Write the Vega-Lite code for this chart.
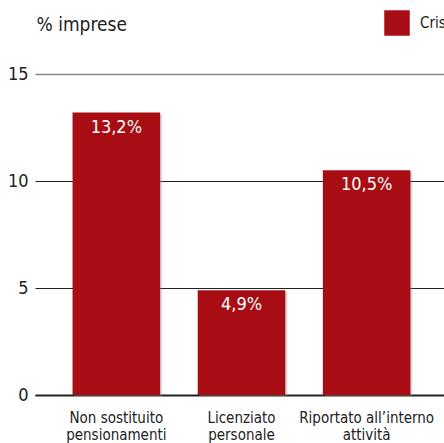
{
  "$schema": "https://vega.github.io/schema/vega-lite/v6.json",
  "autosize": "none",
  "width": 413,
  "height": 321,
  "padding": {"left": 35, "top": 74, "right": 0, "bottom": 48},
  "background": "white",
  "config": {
    "font": "DejaVu Sans Condensed, sans-serif",
    "view": {"stroke": null}
  },
  "data": {
    "values": [
      {"categoria": "Non sostituito pensionamenti", "valore": 13.2, "serie": "Crisi"},
      {"categoria": "Licenziato personale", "valore": 4.9, "serie": "Crisi"},
      {"categoria": "Riportato all’interno attività", "valore": 10.5, "serie": "Crisi"}
    ]
  },
  "encoding": {
    "x": {
      "field": "categoria",
      "type": "nominal",
      "sort": null,
      "scale": {"paddingInner": 0.3, "paddingOuter": 0.3},
      "axis": {
        "title": null,
        "labelAngle": 0,
        "ticks": false,
        "domainColor": "#222",
        "domainWidth": 2,
        "labelFontSize": 15,
        "labelColor": "#222",
        "labelPadding": 15,
        "labelLineHeight": 17,
        "labelBaseline": "top",
        "labelExpr": "datum.value == 'Non sostituito pensionamenti' ? ['Non sostituito', 'pensionamenti'] : datum.value == 'Licenziato personale' ? ['Licenziato', 'personale'] : ['Riportato all’interno', 'attività']"
      }
    },
    "y": {
      "field": "valore",
      "type": "quantitative",
      "scale": {"domain": [0, 15]},
      "axis": {
        "title": "% imprese",
        "titleAngle": 0,
        "titleX": 1,
        "titleY": -44,
        "titleAlign": "left",
        "titleBaseline": "alphabetic",
        "titleFontSize": 19,
        "titleFontWeight": "normal",
        "titleColor": "#222",
        "values": [0, 5, 10, 15],
        "domain": false,
        "ticks": false,
        "labelPadding": 7,
        "labelFontSize": 18,
        "labelColor": "#222",
        "grid": true,
        "gridColor": {"condition": {"test": "datum.value == 15", "value": "#888"}, "value": "#222"},
        "gridWidth": {"condition": {"test": "datum.value == 15", "value": 1.5}, "value": 1.2}
      }
    }
  },
  "layer": [
    {
      "mark": {"type": "bar", "color": "#999", "opacity": 0.35, "xOffset": 2, "yOffset": 2},
      "encoding": {}
    },
    {
      "mark": {"type": "bar"},
      "encoding": {
        "color": {
          "field": "serie",
          "type": "nominal",
          "scale": {"range": ["#a80d13"]},
          "legend": {
            "title": null,
            "orient": "none",
            "legendX": 349,
            "legendY": -64,
            "symbolType": "square",
            "symbolSize": 650,
            "symbolStrokeWidth": 0,
            "symbolOpacity": 1,
            "labelFontSize": 15,
            "labelColor": "#222",
            "labelOffset": 10
          }
        }
      }
    },
    {
      "mark": {
        "type": "text",
        "color": "white",
        "baseline": "top",
        "dy": 6,
        "fontSize": 18,
        "text": {"expr": "replace(format(datum.valore, '.1f'), '.', ',') + '%'"}
      },
      "encoding": {}
    }
  ]
}
